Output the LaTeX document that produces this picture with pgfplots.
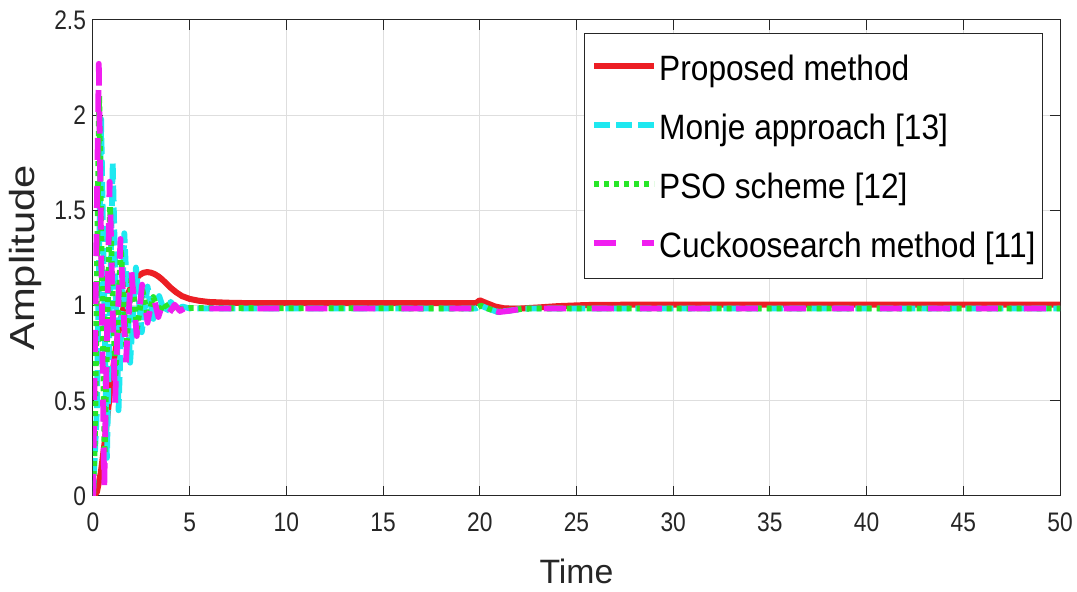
\documentclass[border=0pt]{standalone}
\usepackage{fontspec}
\setmainfont{Liberation Sans}
\newfontfamily\ylabelfont[FakeStretch=1.2]{Liberation Sans}
\newfontfamily\tickfont[FakeStretch=0.85]{Liberation Sans}
\newfontfamily\legendfont[FakeStretch=0.9]{Liberation Sans}
\usepackage{pgfplots}
\pgfplotsset{compat=1.18}

\definecolor{cRed}{RGB}{236,30,36}
\definecolor{cCyan}{RGB}{30,232,240}
\definecolor{cGreen}{RGB}{40,230,40}
\definecolor{cMag}{RGB}{240,30,240}
\definecolor{axgray}{RGB}{38,38,38}

% step responses of the four tuned controllers
\pgfplotstableread{
t y
0 0
0.2 0.02
0.4 0.12
0.6 0.28
0.8 0.47
1.0 0.64
1.2 0.79
1.4 0.91
1.6 1.0
1.8 1.06
2.0 1.105
2.2 1.14
2.4 1.16
2.6 1.172
2.8 1.176
3.0 1.173
3.2 1.165
3.4 1.152
3.6 1.135
3.8 1.115
4.0 1.095
4.3 1.07
4.6 1.05
5.0 1.035
5.5 1.025
6.0 1.019
7.0 1.015
8.0 1.013
19.8 1.013
20.0 1.028
20.3 1.015
20.8 0.995
21.3 0.985
22.0 0.984
23.0 0.99
24.0 0.997
25.5 1.003
28 1.005
50 1.005
}\proposed

\pgfplotstableread{
t y
0 0
0.2 0.45
0.42 1.98
0.72 0.2
1.02 1.75
1.32 0.45
1.62 1.38
1.92 0.7
2.22 1.2
2.52 0.86
2.82 1.1
3.12 0.93
3.42 1.05
3.72 0.96
4.02 1.02
4.32 0.975
4.62 0.995
5.0 0.985
19.8 0.985
20.05 1.0
20.4 0.985
20.9 0.967
21.5 0.973
22.3 0.984
23.5 0.985
50 0.985
}\monje

\pgfplotstableread{
t y
0 0
0.1 0.3
0.32 2.1
0.6 0.22
0.88 1.52
1.16 0.62
1.44 1.3
1.72 0.78
2.0 1.16
2.28 0.88
2.56 1.08
2.84 0.935
3.12 1.045
3.4 0.96
3.68 1.015
3.96 0.972
4.24 0.995
4.55 0.98
5.0 0.987
19.8 0.985
20.05 1.0
20.4 0.985
20.9 0.968
21.5 0.974
22.3 0.984
23.5 0.985
50 0.985
}\pso

\pgfplotstableread{
t y
0 0
0.3 2.27
0.58 0.03
0.86 1.65
1.14 0.48
1.42 1.35
1.7 0.70
1.98 1.19
2.26 0.84
2.54 1.11
2.82 0.91
3.10 1.06
3.38 0.94
3.66 1.03
3.94 0.96
4.22 1.005
4.5 0.972
4.8 0.99
5.2 0.984
6.0 0.985
19.9 0.985
20.1 0.995
20.5 0.982
21.0 0.966
21.5 0.972
22.2 0.983
23.0 0.985
50 0.985
}\cuckoo

\begin{document}
\begin{tikzpicture}
\path[use as bounding box] (-46.5pt,-48pt) rectangle (492pt,248pt);
\begin{axis}[
  at={(0pt,0pt)}, anchor=south west,
  scale only axis, width=483.5pt, height=238pt,
  xmin=0, xmax=50, ymin=0, ymax=2.5,
  xtick={0,5,...,50},
  xticklabels={0,5,10,15,20,25,30,35,40,45,50},
  ytick={0,0.5,1,1.5,2,2.5},
  yticklabels={0,0.5,1,1.5,2,2.5},
  tick align=inside, tick pos=both,
  major tick length=5pt,
  axis line style={draw=axgray, line width=0.5pt},
  every tick/.style={draw=axgray, line width=0.5pt},
  grid=major,
  major grid style={draw=black!13, line width=0.5pt},
  /pgf/number format/assume math mode=true,
  tick label style={font=\tickfont\fontsize{13.4}{15}\selectfont, text=axgray},
  xticklabel style={yshift=-5pt},
  xlabel={Time},
  xlabel style={at={(rel axis cs:0.5,-0.1176)}, anchor=north,
    font=\fontsize{16.9}{18}\selectfont, text=axgray},
  ylabel={Amplitude},
  ylabel style={at={(rel axis cs:-0.0941,0.5)}, anchor=north,
    font=\ylabelfont\fontsize{17.4}{19}\selectfont, text=axgray},
  legend cell align=left,
  legend image code/.code={\draw[#1] (0pt,0.9pt) -- (30pt,0.9pt);},
  legend style={at={(rel axis cs:0.9824,0.9727)}, anchor=north east,
    draw=axgray, line width=0.5pt, fill=white,
    inner xsep=3.5pt, inner ysep=8.1pt,
    row sep=11.7pt, column sep=1pt,
    font=\legendfont\fontsize{17.6}{19}\selectfont, text=black,
    nodes={inner sep=0pt, text height=15.5pt, text depth=2.3pt}},
]
\addplot[cRed, line width=3pt, line join=round] table[x=t, y=y] {\proposed};
\addlegendentry{Proposed method}
\addplot[cCyan, line width=2.9pt, line join=round, dash pattern=on 8pt off 3pt] table[x=t, y=y] {\monje};
\addlegendentry{Monje approach [13]}
\addplot[cGreen, line width=2.9pt, line join=round, dash pattern=on 2.5pt off 2.5pt] table[x=t, y=y] {\pso};
\addlegendentry{PSO scheme [12]}
\addplot[cMag, line width=2.9pt, line join=round, dash pattern=on 11pt off 13pt] table[x=t, y=y] {\cuckoo};
\addlegendentry{Cuckoosearch method [11]}
\end{axis}
\end{tikzpicture}
\end{document}
